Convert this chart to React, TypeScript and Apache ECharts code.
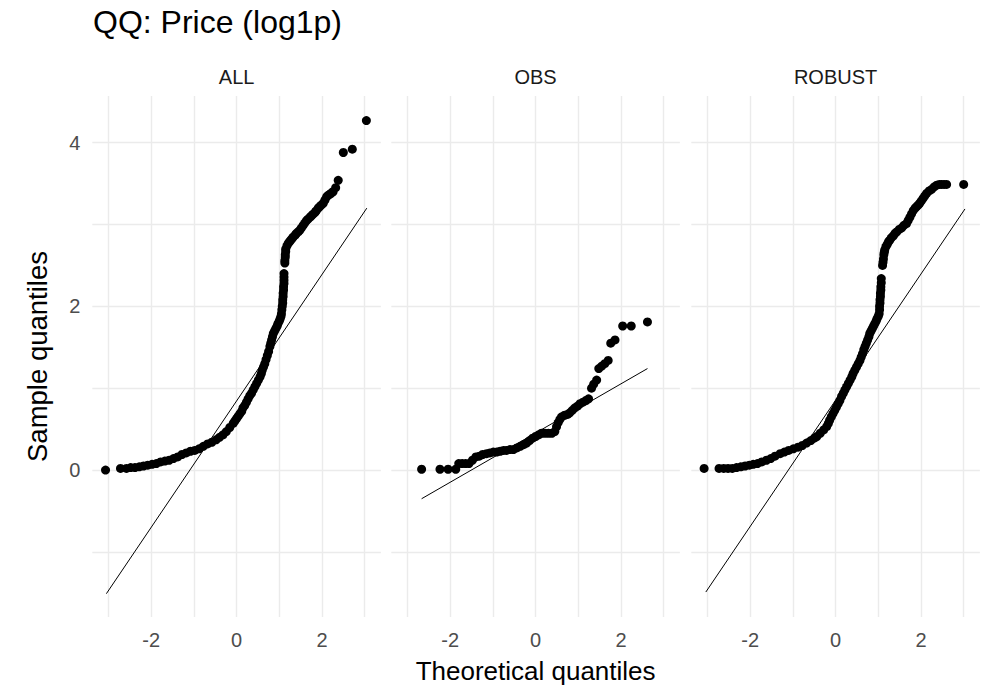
import React, { useEffect, useRef } from "react";
import * as echarts from "echarts";

// ---- data ----
const PANELS = ["ALL", "OBS", "ROBUST"];
const X_TICK_LABELS = [-2, 0, 2];
const Y_TICK_LABELS = [0, 2, 4];

// [theoretical quantile, sample quantile]
const ALL_POINTS: number[][] = [
  [-3.07, 0.0], [-2.72, 0.02], [-2.58, 0.02], [-2.48, 0.03], [-2.38, 0.03], [-2.28, 0.04], [-2.18, 0.05], [-2.08, 0.06],
  [-1.98, 0.07], [-1.88, 0.08], [-1.78, 0.1], [-1.68, 0.11], [-1.58, 0.12], [-1.48, 0.14], [-1.38, 0.16], [-1.28, 0.19],
  [-1.18, 0.21], [-1.08, 0.23], [-0.98, 0.24], [-0.88, 0.26], [-0.78, 0.29], [-0.68, 0.32], [-0.58, 0.34], [-0.48, 0.37],
  [-0.4, 0.4], [-0.32, 0.43], [-0.24, 0.47], [-0.16, 0.52], [-0.08, 0.57], [-0.04, 0.6], [0.0, 0.63], [0.04, 0.66],
  [0.08, 0.69], [0.12, 0.72], [0.15, 0.76], [0.19, 0.79], [0.23, 0.83], [0.27, 0.87], [0.31, 0.91], [0.35, 0.94],
  [0.39, 0.98], [0.43, 1.02], [0.47, 1.06], [0.51, 1.1], [0.55, 1.14], [0.58, 1.18], [0.6, 1.22], [0.63, 1.26],
  [0.66, 1.3], [0.69, 1.35], [0.72, 1.4], [0.75, 1.45], [0.78, 1.51], [0.8, 1.55], [0.82, 1.59], [0.84, 1.63],
  [0.86, 1.67], [0.89, 1.7], [0.92, 1.73], [0.95, 1.76], [0.97, 1.79], [1.0, 1.82], [1.02, 1.85], [1.04, 1.88],
  [1.05, 1.91], [1.06, 1.96], [1.07, 2.0], [1.08, 2.04], [1.08, 2.08], [1.09, 2.12], [1.09, 2.16], [1.1, 2.2],
  [1.1, 2.24], [1.11, 2.28], [1.11, 2.32], [1.11, 2.36], [1.11, 2.4], [1.13, 2.53], [1.13, 2.56], [1.14, 2.6],
  [1.14, 2.63], [1.15, 2.67], [1.15, 2.7], [1.18, 2.74], [1.21, 2.77], [1.24, 2.79], [1.27, 2.81], [1.3, 2.83],
  [1.33, 2.85], [1.37, 2.87], [1.4, 2.89], [1.44, 2.91], [1.48, 2.93], [1.52, 2.96], [1.56, 2.99], [1.6, 3.02],
  [1.64, 3.05], [1.68, 3.07], [1.72, 3.09], [1.76, 3.11], [1.8, 3.13], [1.84, 3.15], [1.87, 3.17], [1.91, 3.2],
  [1.95, 3.22], [1.99, 3.24], [2.03, 3.26], [2.07, 3.3], [2.11, 3.34], [2.15, 3.36], [2.19, 3.37], [2.23, 3.39],
  [2.26, 3.4], [2.32, 3.45], [2.38, 3.54], [2.5, 3.88], [2.71, 3.92], [3.04, 4.27],
];

const OBS_POINTS: number[][] = [
  [-2.67, 0.01], [-2.24, 0.01], [-2.05, 0.01], [-1.87, 0.01], [-1.8, 0.08], [-1.72, 0.08], [-1.64, 0.08], [-1.56, 0.08],
  [-1.48, 0.12], [-1.4, 0.16], [-1.32, 0.17], [-1.24, 0.19], [-1.15, 0.2], [-1.07, 0.21], [-0.99, 0.22], [-0.91, 0.22],
  [-0.83, 0.23], [-0.75, 0.24], [-0.68, 0.24], [-0.6, 0.25], [-0.52, 0.25], [-0.44, 0.27], [-0.36, 0.29], [-0.28, 0.31],
  [-0.21, 0.33], [-0.14, 0.36], [-0.07, 0.39], [0.0, 0.41], [0.07, 0.43], [0.14, 0.45], [0.22, 0.45], [0.3, 0.45],
  [0.38, 0.45], [0.45, 0.47], [0.49, 0.53], [0.53, 0.58], [0.57, 0.62], [0.61, 0.65], [0.68, 0.67], [0.75, 0.68],
  [0.8, 0.7], [0.86, 0.73], [0.92, 0.76], [0.98, 0.78], [1.04, 0.81], [1.11, 0.83], [1.18, 0.85], [1.24, 0.87],
  [1.31, 1.0], [1.36, 1.05], [1.43, 1.1], [1.48, 1.24], [1.55, 1.27], [1.62, 1.3], [1.7, 1.34], [1.76, 1.55],
  [1.86, 1.59], [2.04, 1.76], [2.24, 1.76], [2.62, 1.81],
];

const ROBUST_POINTS: number[][] = [
  [-3.08, 0.02], [-2.73, 0.02], [-2.62, 0.02], [-2.52, 0.02], [-2.42, 0.02], [-2.32, 0.03], [-2.22, 0.04], [-2.12, 0.05],
  [-2.02, 0.06], [-1.93, 0.07], [-1.83, 0.08], [-1.73, 0.1], [-1.62, 0.12], [-1.52, 0.14], [-1.42, 0.17], [-1.3, 0.2],
  [-1.2, 0.22], [-1.1, 0.24], [-0.99, 0.26], [-0.88, 0.28], [-0.78, 0.3], [-0.68, 0.33], [-0.58, 0.36], [-0.5, 0.39],
  [-0.44, 0.41], [-0.36, 0.45], [-0.28, 0.49], [-0.21, 0.53], [-0.17, 0.57], [-0.14, 0.61], [-0.1, 0.65], [-0.06, 0.69],
  [-0.02, 0.73], [0.02, 0.77], [0.06, 0.81], [0.1, 0.85], [0.14, 0.9], [0.18, 0.94], [0.22, 0.98], [0.26, 1.02],
  [0.3, 1.06], [0.34, 1.1], [0.38, 1.14], [0.41, 1.18], [0.45, 1.22], [0.49, 1.26], [0.53, 1.3], [0.57, 1.34],
  [0.6, 1.38], [0.63, 1.42], [0.66, 1.47], [0.69, 1.51], [0.72, 1.55], [0.75, 1.59], [0.78, 1.63], [0.8, 1.67],
  [0.83, 1.7], [0.86, 1.73], [0.89, 1.76], [0.92, 1.79], [0.95, 1.82], [0.97, 1.85], [1.0, 1.88], [1.02, 1.91],
  [1.03, 1.96], [1.03, 2.0], [1.04, 2.04], [1.04, 2.08], [1.05, 2.12], [1.05, 2.16], [1.06, 2.2], [1.06, 2.24],
  [1.07, 2.29], [1.07, 2.34], [1.1, 2.5], [1.11, 2.54], [1.12, 2.58], [1.13, 2.63], [1.14, 2.66], [1.15, 2.69],
  [1.18, 2.73], [1.21, 2.76], [1.24, 2.79], [1.27, 2.81], [1.31, 2.84], [1.35, 2.86], [1.39, 2.89], [1.43, 2.91],
  [1.49, 2.94], [1.55, 2.96], [1.6, 2.99], [1.66, 3.01], [1.7, 3.05], [1.74, 3.09], [1.78, 3.13], [1.82, 3.17],
  [1.86, 3.2], [1.9, 3.22], [1.94, 3.24], [1.97, 3.26], [2.01, 3.29], [2.05, 3.32], [2.09, 3.35], [2.13, 3.38],
  [2.19, 3.41], [2.25, 3.43], [2.31, 3.46], [2.37, 3.48], [2.43, 3.49], [2.48, 3.49], [2.54, 3.49], [2.6, 3.49],
  [3.0, 3.49],
];

// reference lines: [x0, y0, x1, y1]
const ALL_LINE = [-3.05, -1.51, 3.05, 3.2];
const OBS_LINE = [-2.67, -0.35, 2.62, 1.24];
const ROBUST_LINE = [-3.04, -1.49, 3.03, 3.19];

const X_RANGE = [-3.38, 3.38];
const Y_RANGE = [-1.795, 4.57];

const FONT = "'Liberation Sans', Arial, sans-serif";

export default function App() {
  const ref = useRef<HTMLDivElement | null>(null);

  useEffect(() => {
    if (!ref.current) return;
    const chart = echarts.init(ref.current, undefined, { renderer: "svg" });

    const panelLefts = [92.3, 391.3, 691.3];
    const panelWidth = 288.6;
    const panelTop = 96;
    const panelHeight = 521;

    const pointSets = [ALL_POINTS, OBS_POINTS, ROBUST_POINTS];
    const lines = [ALL_LINE, OBS_LINE, ROBUST_LINE];

    const grid = panelLefts.map((l) => ({ left: l, top: panelTop, width: panelWidth, height: panelHeight, containLabel: false }));

    const splitLine = {
      show: true,
      showMinLine: false,
      showMaxLine: false,
      lineStyle: { color: "#ebebeb", width: 1.4 },
    };

    const xAxis = panelLefts.map((_, i) => ({
      type: "value",
      gridIndex: i,
      min: X_RANGE[0],
      max: X_RANGE[1],
      splitNumber: 7,
      axisLine: { show: false },
      axisTick: { show: false },
      splitLine,
      axisLabel: {
        show: true,
        margin: 13,
        color: "#4d4d4d",
        fontSize: 20,
        fontFamily: FONT,
        showMinLabel: false,
        showMaxLabel: false,
        formatter: (v: number) => (X_TICK_LABELS.some((t) => Math.abs(t - v) < 1e-9) ? String(Math.round(v)) : ""),
      },
    }));

    const yAxis = panelLefts.map((_, i) => ({
      type: "value",
      gridIndex: i,
      min: Y_RANGE[0],
      max: Y_RANGE[1],
      splitNumber: 7,
      axisLine: { show: false },
      axisTick: { show: false },
      splitLine,
      axisLabel: {
        show: i === 0,
        margin: 12,
        color: "#4d4d4d",
        fontSize: 20,
        fontFamily: FONT,
        showMinLabel: false,
        showMaxLabel: false,
        formatter: (v: number) => (Y_TICK_LABELS.some((t) => Math.abs(t - v) < 1e-9) ? String(Math.round(v)) : ""),
      },
    }));

    const series: any[] = [];
    pointSets.forEach((pts, i) => {
      series.push({
        type: "scatter",
        xAxisIndex: i,
        yAxisIndex: i,
        data: pts,
        symbol: "circle",
        symbolSize: 9,
        itemStyle: { color: "#000000", opacity: 1 },
        silent: true,
      });
      const ln = lines[i];
      series.push({
        type: "line",
        xAxisIndex: i,
        yAxisIndex: i,
        data: [
          [ln[0], ln[1]],
          [ln[2], ln[3]],
        ],
        symbol: "none",
        lineStyle: { color: "#000000", width: 1 },
        silent: true,
        z: 3,
      });
    });

    const stripCenters = panelLefts.map((l) => l + panelWidth / 2);

    const graphic: any[] = [
      {
        type: "text",
        x: 93,
        y: 22,
        style: { text: "QQ: Price (log1p)", fontSize: 32, fontFamily: FONT, fill: "#000000", align: "left", verticalAlign: "middle" },
      },
      ...PANELS.map((p, i) => ({
        type: "text",
        x: stripCenters[i],
        y: 77,
        style: { text: p, fontSize: 20, fontFamily: FONT, fill: "#1a1a1a", align: "center", verticalAlign: "middle" },
      })),
      {
        type: "text",
        x: stripCenters[1],
        y: 671,
        style: { text: "Theoretical quantiles", fontSize: 26, fontFamily: FONT, fill: "#000000", align: "center", verticalAlign: "middle" },
      },
      {
        type: "text",
        x: 37,
        y: panelTop + panelHeight / 2,
        rotation: Math.PI / 2,
        style: { text: "Sample quantiles", fontSize: 27.5, fontFamily: FONT, fill: "#000000", align: "center", verticalAlign: "middle" },
      },
    ];

    chart.setOption({
      animation: false,
      backgroundColor: "#ffffff",
      grid,
      xAxis,
      yAxis,
      series,
      graphic,
    });

    return () => chart.dispose();
  }, []);

  return (
    <div
      ref={ref}
      style={{ position: "absolute", left: 0, top: 0, width: 983, height: 689 }}
    />
  );
}
